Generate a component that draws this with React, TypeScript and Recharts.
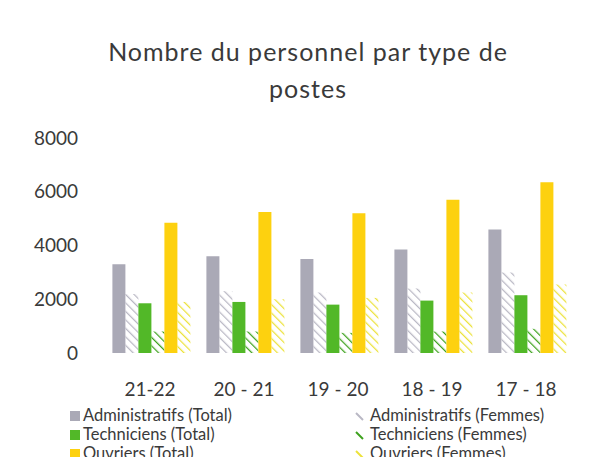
import { BarChart, Bar, XAxis, YAxis } from 'recharts';

const years = ['21-22', '20 - 21', '19 - 20', '18 - 19', '17 - 18'];
const adminTotal = [3300, 3600, 3500, 3850, 4600];
const adminFemmes = [2200, 2300, 2250, 2400, 3000];
const techTotal = [1850, 1900, 1800, 1950, 2150];
const techFemmes = [800, 800, 750, 800, 900];
const ouvTotal = [4850, 5250, 5200, 5700, 6350];
const ouvFemmes = [1900, 2000, 2050, 2250, 2550];
const yTicks = [0, 2000, 4000, 6000, 8000];

const data = years.map((year, i) => ({
    year,
    adminTotal: adminTotal[i],
    adminFemmes: adminFemmes[i],
    techTotal: techTotal[i],
    techFemmes: techFemmes[i],
    ouvTotal: ouvTotal[i],
    ouvFemmes: ouvFemmes[i],
}));

const GRAY = '#aaa9b6';
const GRAY_H = '#b9b8c4';
const GREEN = '#52b828';
const GREEN_H = '#3ea21e';
const YELLOW = '#fdd10f';
const YELLOW_H = '#ece23a';

const legendItems = [
    { label: 'Administratifs (Total)', color: GRAY, hatched: false },
    { label: 'Administratifs (Femmes)', color: GRAY_H, hatched: true },
    { label: 'Techniciens (Total)', color: GREEN, hatched: false },
    { label: 'Techniciens (Femmes)', color: GREEN_H, hatched: true },
    { label: 'Ouvriers (Total)', color: YELLOW, hatched: false },
    { label: 'Ouvriers (Femmes)', color: YELLOW_H, hatched: true },
];

const font = 'Lato, "Open Sans", sans-serif';

const App = () => {
    return (
        <div style={{ position: 'relative', width: 595, height: 465, margin: -8, overflow: 'hidden', background: '#fff', fontFamily: font }}>
            <div style={{ position: 'absolute', top: 33, left: 0, width: 616, textAlign: 'center', fontSize: 25, letterSpacing: 1, lineHeight: '37px', color: '#3a3a3a' }}>
                Nombre du personnel par type de
                <br />
                postes
            </div>

            <BarChart
                width={595}
                height={465}
                data={data}
                margin={{ top: 138, right: 22, left: 0, bottom: 82 }}
                barCategoryGap="10%"
                barGap={0}
            >
                <defs>
                    <pattern id="hGray" width="6" height="6" patternUnits="userSpaceOnUse" patternTransform="rotate(-45)">
                        <line x1="0" y1="0" x2="0" y2="6" stroke={GRAY_H} strokeWidth="2.5" />
                    </pattern>
                    <pattern id="hGreen" width="6" height="6" patternUnits="userSpaceOnUse" patternTransform="rotate(-45)">
                        <line x1="0" y1="0" x2="0" y2="6" stroke={GREEN_H} strokeWidth="2.5" />
                    </pattern>
                    <pattern id="hYellow" width="6" height="6" patternUnits="userSpaceOnUse" patternTransform="rotate(-45)">
                        <line x1="0" y1="0" x2="0" y2="6" stroke={YELLOW_H} strokeWidth="2.5" />
                    </pattern>
                </defs>
                <XAxis
                    dataKey="year"
                    height={30}
                    axisLine={false}
                    tickLine={false}
                    tickMargin={24}
                    tick={{ fill: '#3a3a3a', fontSize: 19, fontFamily: font }}
                    interval={0}
                />
                <YAxis
                    width={103}
                    domain={[0, 8000]}
                    ticks={yTicks}
                    axisLine={false}
                    tickLine={false}
                    tickMargin={19}
                    tick={{ fill: '#3a3a3a', fontSize: 19, fontFamily: font }}
                />
                <Bar dataKey="adminTotal" fill={GRAY} isAnimationActive={false} />
                <Bar dataKey="adminFemmes" fill="url(#hGray)" isAnimationActive={false} />
                <Bar dataKey="techTotal" fill={GREEN} isAnimationActive={false} />
                <Bar dataKey="techFemmes" fill="url(#hGreen)" isAnimationActive={false} />
                <Bar dataKey="ouvTotal" fill={YELLOW} isAnimationActive={false} />
                <Bar dataKey="ouvFemmes" fill="url(#hYellow)" isAnimationActive={false} />
            </BarChart>

            {legendItems.map((item, i) => {
                const col = i % 2;
                const row = Math.floor(i / 2);
                return (
                    <div
                        key={item.label}
                        style={{
                            position: 'absolute',
                            left: col === 0 ? 70 : 354,
                            top: 406 + row * 19,
                            fontSize: 16.5,
                            lineHeight: '19px',
                            color: '#3a3a3a',
                            display: 'flex',
                            alignItems: 'center',
                            whiteSpace: 'nowrap',
                        }}
                    >
                        {item.hatched ? (
                            <svg width={10} height={10} style={{ marginRight: 6 }}>
                                <line x1="2" y1="2" x2="9" y2="9" stroke={item.color} strokeWidth="2" />
                            </svg>
                        ) : (
                            <span style={{ width: 10, height: 10, background: item.color, marginRight: 3, display: 'inline-block' }} />
                        )}
                        {item.label}
                    </div>
                );
            })}
        </div>
    );
};

export default App;
